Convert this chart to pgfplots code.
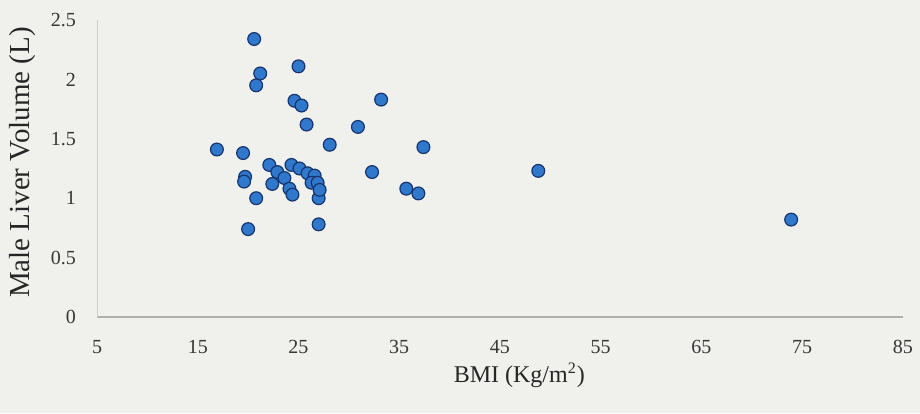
\documentclass[border=0pt]{standalone}
\usepackage{pgfplots}
\pgfplotsset{compat=1.18}
\usepackage{fontspec}
\setmainfont{Liberation Serif}
\definecolor{bgcol}{RGB}{240,240,237}
\definecolor{ptfill}{RGB}{48,120,204}
\definecolor{ptdraw}{RGB}{22,52,110}
\definecolor{axcol}{RGB}{175,175,175}
\definecolor{tickcol}{RGB}{55,55,55}
\begin{document}
\begin{tikzpicture}
\fill[bgcol] (-48.5pt,-48pt) rectangle (411.5pt,158.5pt);
\begin{axis}[
  scale only axis,
  width=403pt, height=148.5pt,
  xmin=5, xmax=85, ymin=0, ymax=2.5,
  xtick={5,15,...,85},
  ytick={0,0.5,1,1.5,2,2.5},
  axis x line*=bottom,
  axis y line*=left,
  x axis line style={draw=axcol, line width=0.8pt, -},
  y axis line style={draw=axcol!60, line width=0.5pt, -},
  major tick length=0pt,
  tick style={draw=none},
  tick label style={font=\fontsize{10}{12}\selectfont, text=tickcol},
  /pgf/number format/assume math mode=true,
  xticklabel style={yshift=-8pt},
  yticklabel style={xshift=-7pt},
  xlabel={BMI (Kg/m\textsuperscript{2})},
  ylabel={Male Liver Volume (L)},
  xlabel style={font=\fontsize{12}{14}\selectfont, text=black!85, at={(axis description cs:0.524,0)}, anchor=center, yshift=-29pt},
  every axis y label/.append style={font=\fontsize{14.5}{16}\selectfont, text=black!85, at={(axis description cs:-0.093,0.52)}, anchor=center},
  clip=false,
]
\addplot[only marks, mark=*, mark size=3.2pt, mark options={fill=ptfill, draw=ptdraw, line width=0.6pt}] coordinates {
(20.6,2.34) (21.2,2.05) (20.8,1.95) (25.0,2.11) (24.6,1.82) (25.3,1.78)
(33.2,1.83) (25.8,1.62) (30.9,1.60) (28.1,1.45) (37.4,1.43) (16.9,1.41)
(19.5,1.38) (32.3,1.22) (48.8,1.23) (73.9,0.82) (35.7,1.08) (36.9,1.04)
(19.7,1.18) (19.6,1.14) (20.8,1.00) (20.0,0.74) (27.0,0.78) (27.0,1.00)
(22.1,1.28) (22.9,1.22) (22.4,1.12) (23.6,1.17) (24.1,1.08) (24.4,1.03)
(24.3,1.28) (25.1,1.25) (25.9,1.21) (26.6,1.19) (26.3,1.13) (26.9,1.13)
(27.1,1.07)
};
\end{axis}
\end{tikzpicture}
\end{document}
